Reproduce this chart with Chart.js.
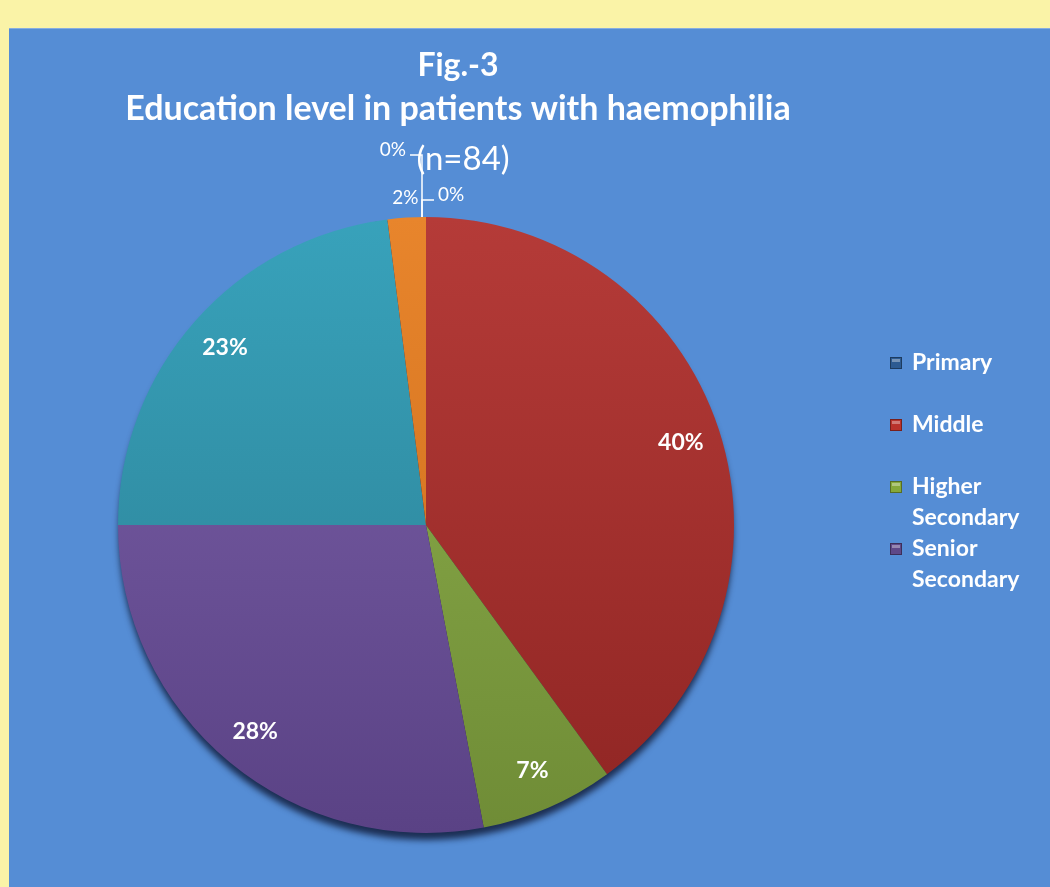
<!DOCTYPE html>
<html>
<head>
<meta charset="utf-8">
<script src="https://cdn.jsdelivr.net/npm/chart.js@4.4.1/dist/chart.umd.min.js"></script>
<style>
html, body { margin: 0; padding: 0; width: 1050px; height: 887px; overflow: hidden; background: #FAF3A7; }
#panel { position: absolute; left: 9px; top: 28px; width: 1041px; height: 859px; background: #558DD5; border-top: 1px solid #86ADE0; }
canvas { display: block; }
</style>
</head>
<body>
<div id="panel"><canvas id="PieChart" width="1041" height="859"></canvas></div>
<script>
// data
const categories = [['Primary'], ['Middle'], ['Higher', 'Secondary'], ['Senior', 'Secondary'], ['Graduate'], ['Post Graduate'], ['Others']];
const percentValues = [0, 40, 7, 28, 23, 2, 0];
const titleLines = ['Fig.-3', 'Education level in patients with haemophilia'];
const subtitleText = '(n=84)';
const legendCount = 4; // the original legend only shows the first four

// slice colours: lighter at the top of the pie, darker at the bottom
const topColors = ['#5A8CC8', '#B53B38', '#90B24E', '#7D62AA', '#38A2BB', '#E8852C', '#2C4D75'];
const bottomColors = ['#3E6EA6', '#8F2523', '#6F8C36', '#5A4285', '#2A7C90', '#C86A1A', '#22405F'];
const legendColors = ['#2D5B92', '#B9322C', '#86A83A', '#5E4888'];

const FONT = 'Lato, "Open Sans", sans-serif';

// soft dark rim under the pie
const pieShadow = {
    id: 'pieShadow',
    beforeDatasetsDraw(chart) {
        const arc = chart.getDatasetMeta(0).data[0];
        if (!arc) return;
        const ctx = chart.ctx;
        ctx.save();
        ctx.shadowColor = 'rgba(10, 15, 40, 0.75)';
        ctx.shadowBlur = 6;
        ctx.shadowOffsetY = 8;
        ctx.fillStyle = '#2a2440';
        ctx.beginPath();
        ctx.arc(arc.x, arc.y, arc.outerRadius - 1, 0, Math.PI * 2);
        ctx.fill();
        ctx.restore();
    }
};

// percentage labels, small slices get a leader line outside the pie
const sliceLabels = {
    id: 'sliceLabels',
    afterDatasetsDraw(chart) {
        const ctx = chart.ctx;
        const meta = chart.getDatasetMeta(0);
        ctx.save();
        ctx.fillStyle = '#FFFFFF';
        ctx.strokeStyle = '#FFFFFF';
        ctx.lineWidth = 1.5;
        ctx.textBaseline = 'middle';
        meta.data.forEach((arc, i) => {
            const p = arc.getProps(['x', 'y', 'startAngle', 'endAngle', 'outerRadius'], true);
            const text = percentValues[i] + '%';
            const mid = (p.startAngle + p.endAngle) / 2;
            if (percentValues[i] >= 5) {
                const r = p.outerRadius * 0.87;
                ctx.font = 'bold 23px ' + FONT;
                ctx.textAlign = 'center';
                ctx.fillText(text, p.x + Math.cos(mid) * r, p.y + Math.sin(mid) * r);
                return;
            }
            ctx.font = '19px ' + FONT;
            const ax = p.x + Math.cos(mid) * p.outerRadius;
            const ay = p.y + Math.sin(mid) * p.outerRadius;
            if (percentValues[i] > 0) {
                const r = p.outerRadius + 20;
                ctx.textAlign = 'center';
                ctx.fillText(text, p.x + Math.cos(mid) * r, p.y + Math.sin(mid) * r);
                return;
            }
            // zero slices: first one goes right, last one goes up and left
            const first = i === 0;
            const up = first ? 17 : 62;
            const dir = first ? 1 : -1;
            ctx.beginPath();
            ctx.moveTo(ax - 4, ay);
            ctx.lineTo(ax - 4, ay - up);
            ctx.lineTo(ax - 4 + dir * 12, ay - up);
            ctx.stroke();
            ctx.textAlign = first ? 'left' : 'right';
            ctx.fillText(text, ax - 4 + dir * 16, ay - up - 5);
        });
        ctx.restore();
    }
};

// centred title block drawn over the plot side of the panel
const titleBlock = {
    id: 'titleBlock',
    afterDraw(chart) {
        const ctx = chart.ctx;
        ctx.save();
        ctx.fillStyle = '#FFFFFF';
        ctx.textAlign = 'center';
        ctx.textBaseline = 'middle';
        ctx.font = 'bold 32px ' + FONT;
        ctx.fillText(titleLines[0], 449, 37);
        ctx.font = 'bold 34px ' + FONT;
        ctx.fillText(titleLines[1], 449, 80);
        ctx.font = '33px ' + FONT;
        ctx.fillText(subtitleText, 454, 130);
        ctx.restore();
    }
};

// right-hand legend, wrapped labels share the same item spacing
const sideLegend = {
    id: 'sideLegend',
    afterDraw(chart) {
        const ctx = chart.ctx;
        ctx.save();
        ctx.textBaseline = 'middle';
        ctx.textAlign = 'left';
        ctx.font = 'bold 23px ' + FONT;
        chart.data.labels.slice(0, legendCount).forEach((lines, i) => {
            const y = 334 + i * 62;
            ctx.fillStyle = legendColors[i];
            ctx.fillRect(881, y - 6, 12, 12);
            ctx.strokeStyle = 'rgba(0,0,0,0.35)';
            ctx.lineWidth = 1;
            ctx.strokeRect(881.5, y - 5.5, 11, 11);
            ctx.fillStyle = 'rgba(255,255,255,0.35)';
            ctx.fillRect(883, y - 4, 8, 3);
            ctx.fillStyle = '#FFFFFF';
            lines.forEach((line, k) => ctx.fillText(line, 903, y + k * 31));
        });
        ctx.restore();
    }
};

const pieData = {
    labels: categories,
    datasets: [{
        label: 'Education level',
        data: percentValues,
        backgroundColor: (c) => {
            const area = c.chart.chartArea;
            if (!area) return topColors[c.dataIndex];
            const g = c.chart.ctx.createLinearGradient(0, area.top, 0, area.bottom);
            g.addColorStop(0, topColors[c.dataIndex]);
            g.addColorStop(1, bottomColors[c.dataIndex]);
            return g;
        },
        borderWidth: 0
    }]
};

const pieConfig = {
    type: 'pie',
    data: pieData,
    options: {
        responsive: false,
        animation: false,
        layout: { padding: { left: 104, right: 311, top: 188, bottom: 55 } },
        plugins: {
            legend: { display: false },
            title: { display: false },
            tooltip: { enabled: false }
        }
    },
    plugins: [pieShadow, sliceLabels, titleBlock, sideLegend]
};

const pieCtx = document.getElementById('PieChart').getContext('2d');
new Chart(pieCtx, pieConfig);
</script>
</body>
</html>
